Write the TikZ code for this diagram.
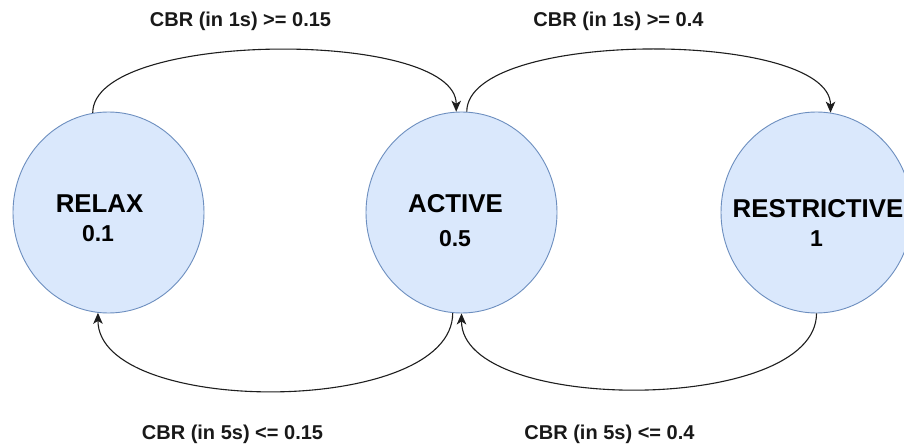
\documentclass[tikz,border=0pt]{standalone}
\usepackage{fontspec}
\setmainfont{Liberation Sans}
\usetikzlibrary{arrows.meta,shapes.geometric}
\definecolor{nodefill}{HTML}{DAE8FC}
\definecolor{nodeline}{HTML}{6C8EBF}
\definecolor{edgecol}{HTML}{1E1E1E}
\tikzset{
  state/.style={ellipse, draw=nodeline, fill=nodefill, line width=0.9pt,
    minimum width=191pt, minimum height=201pt, inner sep=0pt},
  bigtext/.style={anchor=base, inner sep=0pt, font=\fontsize{25.8}{30}\selectfont\bfseries},
  valtext/.style={anchor=base, inner sep=0pt, font=\fontsize{23}{28}\selectfont\bfseries},
  edgelabel/.style={anchor=base, inner sep=0pt, font=\fontsize{20}{24}\selectfont\bfseries, text=black!90},
  edge/.style={draw=edgecol, line width=1.1pt, -{Stealth[length=11pt,width=9.5pt,inset=3pt]}}
}
\begin{document}
\begin{tikzpicture}[x=1pt,y=-1pt]
\useasboundingbox (0,0) rectangle (904,446);
\clip (0,0) rectangle (904,446);
\fill[white] (0,0) rectangle (904,446);

\node[state] (relax) at (108.5,212.5) {};
\node[state] (active) at (461.5,212.5) {};
\node[state] (restrictive) at (816.5,212.5) {};

\node[bigtext] (relaxname) at (99.5,213) {RELAX};
\node[valtext] (relaxval) at (98,242) {0.1};
\node[bigtext] (activename) at (455.5,213) {ACTIVE};
\node[valtext] (activeval) at (455,247) {0.5};
\node[bigtext] (restrname) at (818,218) {RESTRICTIVE};
\node[valtext] (restrval) at (816.5,247) {1};

\draw[edge] (relax.99) .. controls +(0,-83) and +(0,-83) .. (active.93);
\draw[edge] (active.87) .. controls +(0,-83) and +(0,-83) .. (restrictive.82);
\draw[edge] (restrictive.270) .. controls +(0,101) and +(0,101) .. (active.270);
\draw[edge] (active.265) .. controls +(0,104) and +(0,104) .. (relax.264);

\node[edgelabel] (l1) at (240.5,27) {CBR (in 1s) >= 0.15};
\node[edgelabel] (l2) at (618.5,27) {CBR (in 1s) >= 0.4};
\node[edgelabel] (l3) at (232.5,439) {CBR (in 5s) <= 0.15};
\node[edgelabel] (l4) at (609.5,439) {CBR (in 5s) <= 0.4};
\end{tikzpicture}
\end{document}
